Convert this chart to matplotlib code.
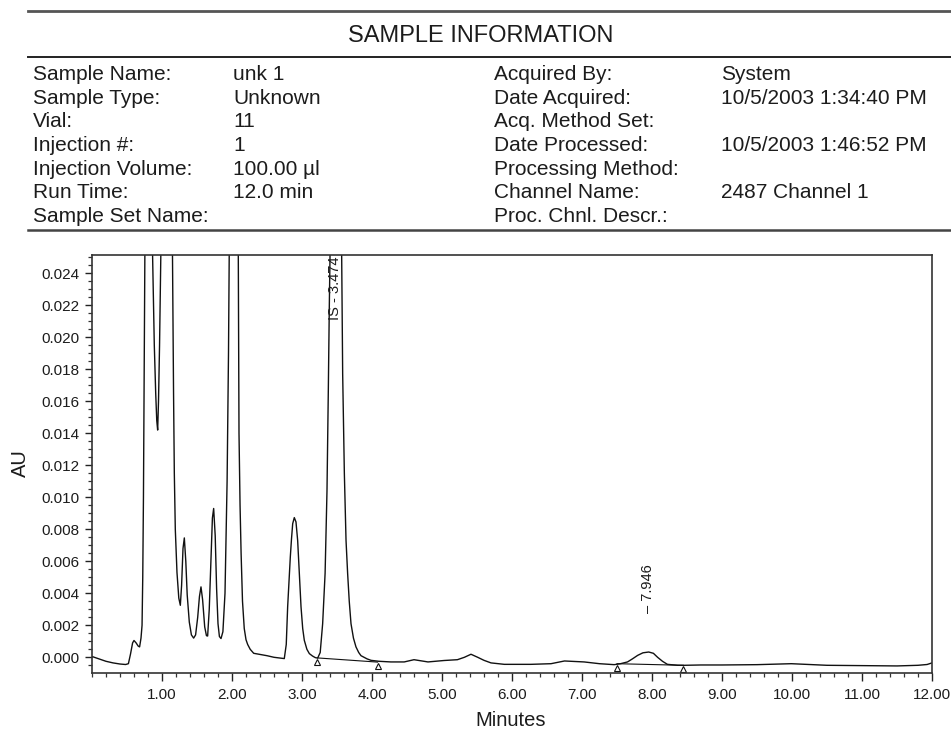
import matplotlib
matplotlib.use("Agg")
import matplotlib.pyplot as plt
from matplotlib.lines import Line2D
from matplotlib.ticker import MultipleLocator, FormatStrFormatter

plt.rcParams['font.family'] = ['Liberation Sans', 'DejaVu Sans']

### DATA ###
left_labels = ["Sample Name:", "Sample Type:", "Vial:", "Injection #:",
               "Injection Volume:", "Run Time:", "Sample Set Name:"]
left_values = ["unk 1", "Unknown", "11", "1", "100.00 \u00b5l", "12.0 min", ""]
right_labels = ["Acquired By:", "Date Acquired:", "Acq. Method Set:", "Date Processed:",
                "Processing Method:", "Channel Name:", "Proc. Chnl. Descr.:"]
right_values = ["System", "10/5/2003 1:34:40 PM", "", "10/5/2003 1:46:52 PM",
                "", "2487 Channel 1", ""]

# detector trace, minutes vs AU (off-scale peaks given above the plot top)
time_min = [0.00, 0.10, 0.20, 0.30, 0.40, 0.48, 0.52, 0.55, 0.58, 0.60, 0.63, 0.66, 0.68,
            0.70, 0.715, 0.725, 0.735, 0.745, 0.755, 0.77, 0.80, 0.83, 0.85, 0.866,
            0.89, 0.91, 0.925, 0.938, 0.95, 0.965, 0.986, 1.01, 1.06, 1.11, 1.135, 1.15,
            1.165, 1.176, 1.19, 1.214, 1.24, 1.262, 1.28, 1.30, 1.319, 1.34, 1.36,
            1.39, 1.42, 1.452, 1.48, 1.51, 1.535, 1.557, 1.58, 1.61, 1.635, 1.652,
            1.675, 1.70, 1.72, 1.738, 1.76, 1.78, 1.80, 1.82, 1.843, 1.87, 1.90, 1.93,
            1.95, 1.96, 1.98, 2.03, 2.07, 2.09, 2.10, 2.115, 2.13, 2.15, 2.175, 2.20,
            2.224, 2.26, 2.31, 2.40, 2.50, 2.60, 2.70, 2.747, 2.775, 2.795, 2.815,
            2.833, 2.85, 2.867, 2.89, 2.914, 2.938, 2.962, 2.986, 3.01, 3.033, 3.07,
            3.105, 3.15, 3.19, 3.224, 3.26, 3.295, 3.33, 3.357, 3.376, 3.39, 3.40,
            3.43, 3.474, 3.52, 3.555, 3.567, 3.581, 3.605, 3.629, 3.652, 3.675, 3.70,
            3.735, 3.771, 3.81, 3.843, 3.93, 3.986, 4.10, 4.27, 4.46, 4.60, 4.80,
            5.03, 5.22, 5.32, 5.414, 5.51, 5.60, 5.70, 5.89, 6.10, 6.27, 6.557,
            6.75, 7.03, 7.25, 7.46, 7.55, 7.65, 7.72, 7.795, 7.87, 7.953, 8.02,
            8.08, 8.15, 8.22, 8.367, 8.46, 8.70, 9.00, 9.50, 9.99, 10.50, 11.00,
            11.50, 11.80, 11.93, 12.00]
absorbance_au = [0.00005, -0.0001, -0.00025, -0.00035, -0.00042, -0.00045, -0.0004,
                 0.0002, 0.0009, 0.00105, 0.0009, 0.0007, 0.00065,
                 0.0012, 0.002, 0.005, 0.010, 0.017, 0.025, 0.036, 0.050, 0.045, 0.034,
                 0.025, 0.0195, 0.0165, 0.0148, 0.0142, 0.016, 0.0195, 0.026, 0.038,
                 0.050, 0.042, 0.031, 0.025, 0.0165, 0.0115, 0.008, 0.0053, 0.0037,
                 0.00325, 0.0045, 0.0068, 0.00746, 0.0060, 0.0039, 0.0022, 0.0014,
                 0.0012, 0.0014, 0.0025, 0.0038, 0.0044, 0.0036, 0.0019, 0.00135,
                 0.00133, 0.0030, 0.0062, 0.0087, 0.0093, 0.0076, 0.0043, 0.0021,
                 0.0013, 0.00117, 0.0016, 0.0040, 0.011, 0.019, 0.025, 0.038, 0.050,
                 0.036, 0.025, 0.014, 0.0095, 0.0065, 0.0035, 0.0018, 0.0011, 0.0008,
                 0.0005, 0.00025, 0.00018, 0.0001, 0.0, -0.00005, -0.00008, 0.0008,
                 0.00315, 0.0048, 0.00627, 0.0074, 0.00835, 0.00873, 0.00846, 0.0073,
                 0.00523, 0.00315, 0.0018, 0.00106, 0.0005, 0.00023, 0.00008, -0.00002,
                 -0.00005, 0.0003, 0.0021, 0.00525, 0.0104, 0.0167, 0.0219, 0.025,
                 0.045, 0.060, 0.045, 0.030, 0.025, 0.0177, 0.0115, 0.0073, 0.00523,
                 0.0035, 0.0021, 0.0012, 0.00065, 0.0003, 0.0001, -0.0001, -0.00019,
                 -0.00025, -0.00029, -0.00029, -0.00015, -0.00029, -0.0002, -0.00015,
                 0.0, 0.00019, 0.0, -0.00019, -0.00035, -0.00044, -0.00044, -0.00044,
                 -0.0004, -0.00023, -0.00029, -0.0004, -0.00046, -0.0004, -0.00029,
                 -0.0001, 0.00012, 0.00028, 0.00033, 0.00025, 0.0, -0.00025, -0.00044,
                 -0.0005, -0.0005, -0.00048, -0.00048, -0.00046, -0.0004, -0.0005,
                 -0.00052, -0.00054, -0.0005, -0.00045, -0.00035]

# integration baselines (start/end of each drop line) and their tick marks
baseline_t = [(3.224, 4.08), (7.50, 8.447)]
baseline_au = [(-0.00004, -0.0003), (-0.0004, -0.0005)]
marker_t = [3.214, 4.08, 7.50, 8.447]
marker_au = [-0.0003, -0.00056, -0.0007, -0.00075]

peak_labels = ["IS - 3.474", "\u2013 7.946"]
peak_label_t = [3.474, 7.946]
peak_label_au = [0.0211, 0.00275]

text_col = "#1c1c1c"

fig = plt.figure(figsize=(9.51, 7.33), dpi=100)

# --- sample information block ---
W, H = 951.0, 733.0
for ypx, lw, col in [(11, 2.0, "#555555"), (57, 1.4, "#222222"), (230, 1.8, "#444444")]:
    fig.add_artist(Line2D([28 / W, 1.0], [1 - ypx / H, 1 - ypx / H], lw=lw, color=col))

fig.text(481 / W, 1 - 42.3 / H, "SAMPLE INFORMATION", ha="center", va="baseline",
         fontsize=17, color=text_col)
row_base = [80, 103.7, 127.4, 151, 174.8, 198.5, 222.2]
for i in range(len(left_labels)):
    yb = 1 - row_base[i] / H
    fig.text(33 / W, yb, left_labels[i], va="baseline", fontsize=15, color=text_col)
    fig.text(233 / W, yb, left_values[i], va="baseline", fontsize=15, color=text_col)
    fig.text(494 / W, yb, right_labels[i], va="baseline", fontsize=15, color=text_col)
    fig.text(721 / W, yb, right_values[i], va="baseline", fontsize=15, color=text_col)

# --- chromatogram ---
ax = fig.add_axes([92 / W, 1 - 672.5 / H, 840 / W, 417.5 / H])
ax.plot(time_min, absorbance_au, color="#111111", lw=1.0)
for (t0, t1), (a0, a1) in zip(baseline_t, baseline_au):
    ax.plot([t0, t1], [a0, a1], color="#111111", lw=0.8)
ax.plot(marker_t, marker_au, ls="none", marker="^", ms=5, mfc="white",
        mec="#111111", mew=0.8)

for lab, t, a in zip(peak_labels, peak_label_t, peak_label_au):
    ax.text(t, a, lab, rotation=90, ha="center", va="bottom", fontsize=10.5,
            color=text_col)

ax.set_xlim(0, 12)
ax.set_ylim(-0.00095, 0.02514)
ax.xaxis.set_minor_locator(MultipleLocator(0.2))
ax.yaxis.set_minor_locator(MultipleLocator(0.0005))
ax.xaxis.set_major_formatter(FormatStrFormatter("%.2f"))
ax.yaxis.set_major_formatter(FormatStrFormatter("%.3f"))
ax.set_xticks([1, 2, 3, 4, 5, 6, 7, 8, 9, 10, 11, 12])
ax.set_yticks([0.002 * k for k in range(13)])
ax.tick_params(axis="both", which="major", labelsize=11, colors="#222222",
               labelcolor=text_col, width=1.0)
ax.tick_params(axis="x", which="major", length=6, pad=5)
ax.tick_params(axis="y", which="major", length=5, pad=4)
ax.tick_params(axis="both", which="minor", length=3, width=0.9, colors="#333333")
for sp in ax.spines.values():
    sp.set_color("#333333")
    sp.set_linewidth(1.2)

fig.text(20 / W, 1 - 463 / H, "AU", rotation=90, ha="center", va="center",
         fontsize=14.5, color=text_col)
fig.text(511 / W, 1 - 720 / H, "Minutes", ha="center", va="center",
         fontsize=14.5, color=text_col)

fig.savefig("out.png", dpi=100)
